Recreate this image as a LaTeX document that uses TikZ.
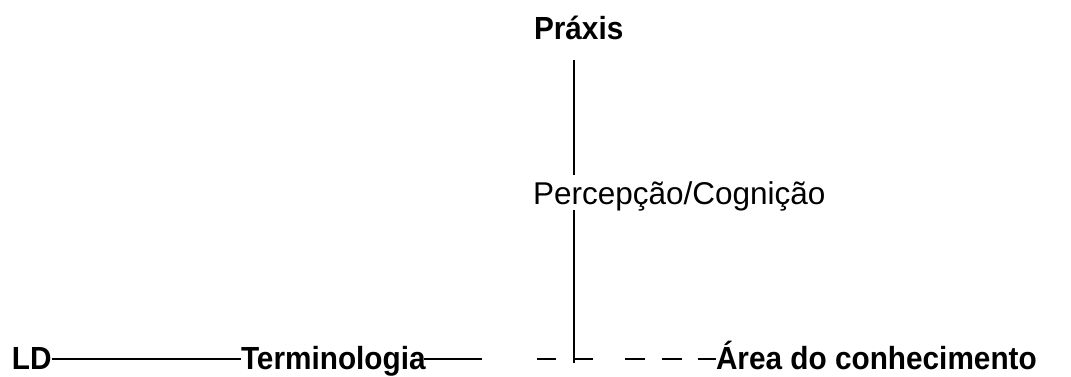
\documentclass[tikz,border=0pt]{standalone}
\usepackage{fontspec}
\setmainfont{Liberation Sans}
\newfontfamily\narrowbold[FakeStretch=0.93]{Liberation Sans Bold}
\begin{document}
\begin{tikzpicture}[x=1pt,y=-1pt,
  lbl/.style={inner sep=0pt,outer sep=0pt,anchor=base west,font=\fontsize{32}{35}\narrowbold},
  lblreg/.style={inner sep=0pt,outer sep=0pt,anchor=base west,font=\fontsize{31.5}{34}\selectfont},
  link/.style={line width=1.2pt,black},
  brokenlink/.style={link,dash pattern=on 58pt off 55pt on 19pt off 18pt on 19pt off 32pt on 20pt off 17pt on 20pt off 16pt on 25pt off 100pt}]
  \useasboundingbox (0,0) rectangle (1071,376);

  % labels
  \node[lbl] (praxis) at (534,39) {Práxis};
  \node[lblreg] (percep) at (533,204) {Percepção/Cognição};
  \node[lbl] (ld) at (12,369) {LD};
  \node[lbl] (term) at (241,369) {Terminologia};
  \node[lbl] (area) at (716,369) {Área do conhecimento};

  % vertical axis
  \coordinate (vx) at (574,0);
  \coordinate (axisend) at (574,363);
  \draw[link] ([yshift=-21pt]praxis.base -| vx) -- ([yshift=29pt]percep.base -| vx);
  \draw[link] ([yshift=-6pt]percep.base -| vx) -- (axisend);

  % horizontal axis
  \coordinate (brokenstart) at (424,359);
  \draw[link] ([yshift=10pt]ld.base east) -- ([yshift=10pt]term.base west);
  \draw[brokenlink] (term.base east |- brokenstart) ++(-2,0) -- ([yshift=10pt]area.base west);
\end{tikzpicture}
\end{document}
